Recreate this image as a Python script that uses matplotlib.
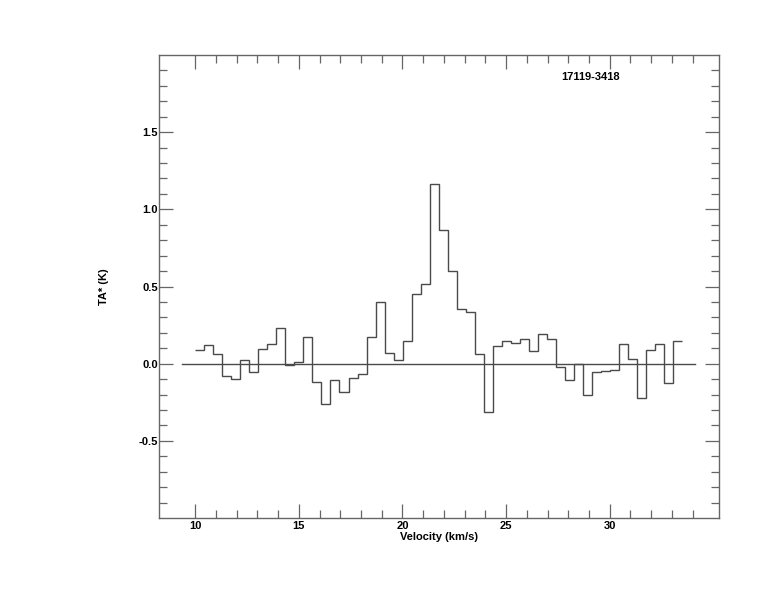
import matplotlib
matplotlib.use("Agg")
import matplotlib.pyplot as plt
import numpy as np

# * spectrum values (TA*, K), one per channel
ta_star = [
    0.089, 0.123, 0.065, -0.080, -0.099, 0.024, -0.052, 0.095, 0.129, 0.231,
    -0.006, 0.011, 0.172, -0.116, -0.261, -0.106, -0.181, -0.093, -0.067, 0.172,
    0.399, 0.071, 0.024, 0.147, 0.451, 0.515, 1.162, 0.865, 0.602, 0.356,
    0.334, 0.065, -0.313, 0.114, 0.147, 0.136, 0.160, 0.082, 0.192, 0.160,
    -0.021, -0.103, -0.002, -0.203, -0.054, -0.045, -0.039, 0.129, 0.030, -0.222,
    0.089, 0.129, -0.125, 0.144,
]
v_first_edge = 10.0     # km/s
channel_width = 0.435   # km/s
baseline_range = [9.36, 34.1]
source_name = "17119-3418"

x_major = [10, 15, 20, 25, 30]
x_minor = [v for v in range(11, 35) if v not in x_major]
y_major = [-0.5, 0.0, 0.5, 1.0, 1.5]
y_minor = [round(v * 0.1, 1) for v in range(-9, 20) if round(v * 0.1, 1) not in y_major]

edges = v_first_edge + channel_width * np.arange(len(ta_star) + 1)

plt.rcParams["font.family"] = ["Liberation Sans", "DejaVu Sans"]
plt.rcParams["font.weight"] = "bold"

fig = plt.figure(figsize=(7.74, 6.12), dpi=100)
ax = fig.add_axes([0.2058, 0.1536, 0.7235, 0.7565])

line_col = "#4a4a4a"
ax.stairs(ta_star, edges, color=line_col, linewidth=1.0, baseline=None)
ax.plot(baseline_range, [0, 0], color=line_col, linewidth=1.0)

fs = 8
ax.text(29.06, 1.855, source_name, ha="center", va="center",
        fontsize=fs, fontweight="bold")

ax.set_xlim(8.263, 35.29)
ax.set_ylim(-1.0, 2.0)

ax.set_xticks(x_major)
ax.set_xticks(x_minor, minor=True)
ax.set_yticks(y_major)
ax.set_yticks(y_minor, minor=True)
ax.set_xticklabels([str(v) for v in x_major])
ax.set_yticklabels(["%.1f" % v for v in y_major])

ax.tick_params(which="both", direction="in", top=True, right=True,
               color="#666666", labelsize=fs, width=0.9)
ax.tick_params(which="major", length=10)
ax.tick_params(which="minor", length=6)
ax.tick_params(axis="x", pad=2)
ax.tick_params(axis="y", pad=1)
for lab in ax.get_xticklabels() + ax.get_yticklabels():
    lab.set_fontweight("bold")

for sp in ax.spines.values():
    sp.set_color("#666666")
    sp.set_linewidth(1.0)

ax.set_xlabel("Velocity (km/s)", fontsize=fs, fontweight="bold", labelpad=1)
ax.set_ylabel("TA* (K)", fontsize=fs, fontweight="bold", labelpad=21)

fig.savefig("out.png", dpi=100)
